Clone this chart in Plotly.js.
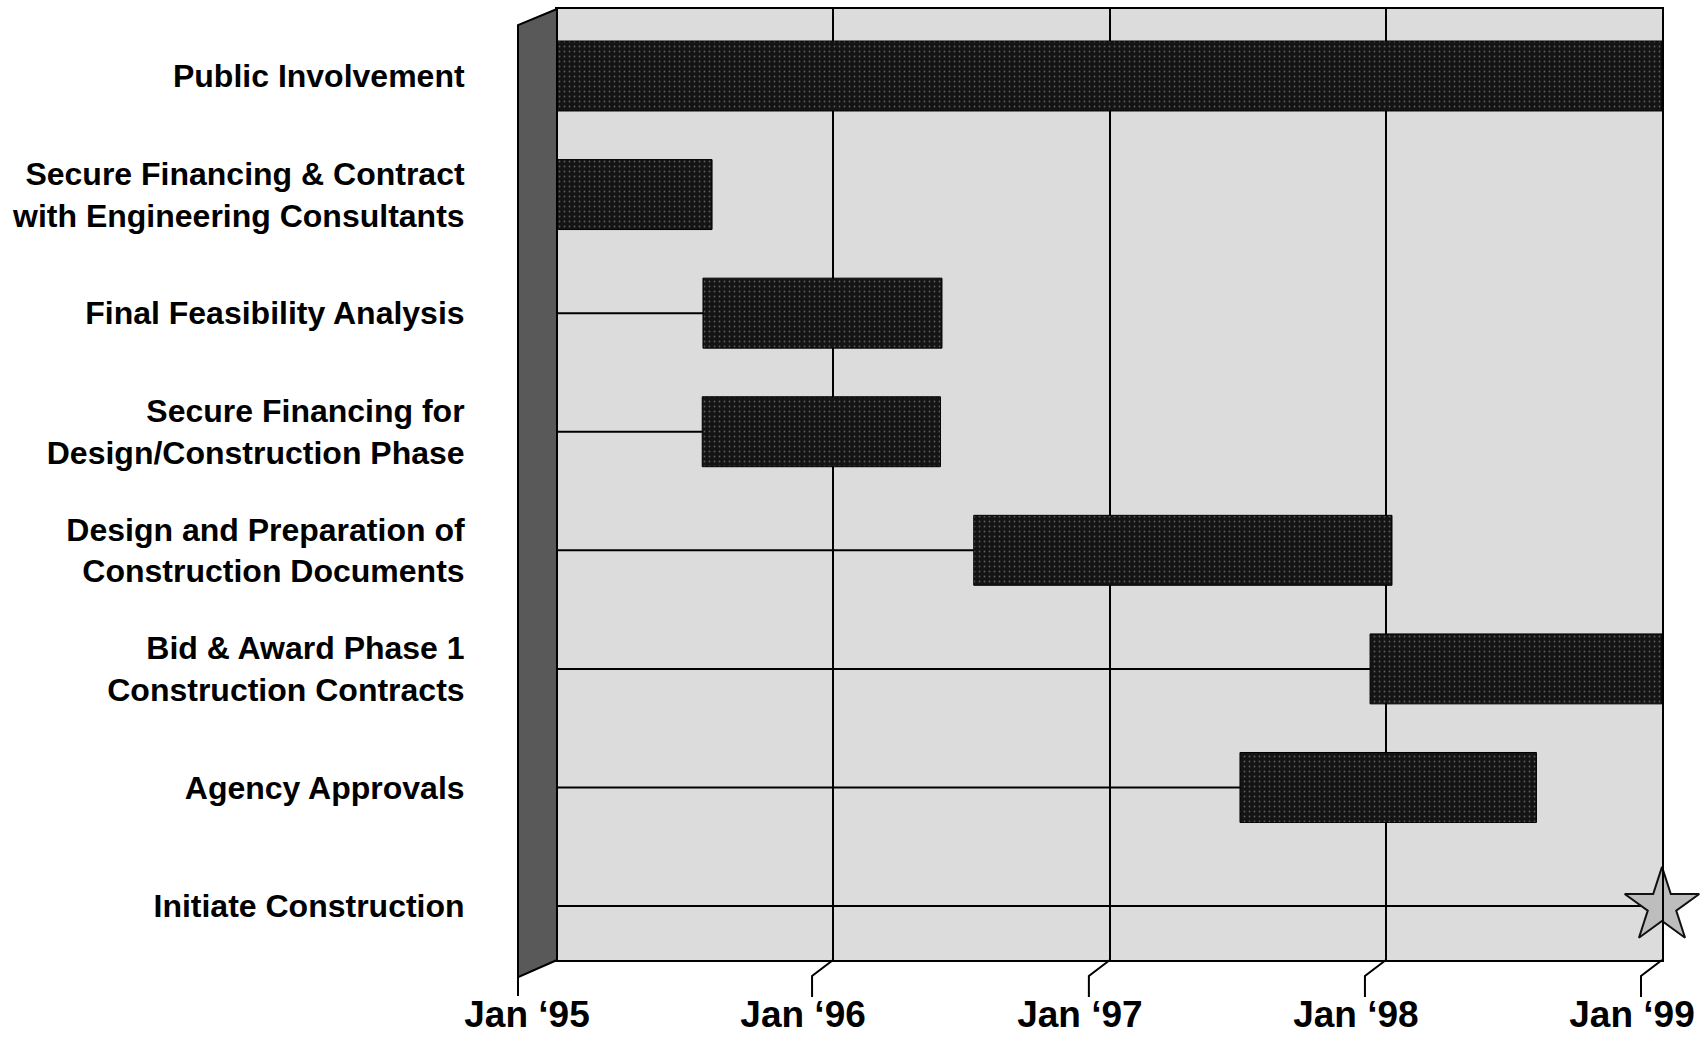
<!DOCTYPE html>
<html><head><meta charset="utf-8">
<script src="https://cdn.plot.ly/plotly-3.0.1.min.js"></script>
<style>html,body{margin:0;padding:0;background:#fff}#chart{width:1705px;height:1039px}</style>
</head><body><div id="chart"></div>
<script>
// ---- data ----
const tasks = [
  "Public Involvement",
  "Secure Financing & Contract<br>with Engineering Consultants",
  "Final Feasibility Analysis",
  "Secure Financing for<br>Design/Construction Phase",
  "Design and Preparation of<br>Construction Documents",
  "Bid & Award Phase 1<br>Construction Contracts",
  "Agency Approvals",
  "Initiate Construction"
];
const startDates = ["1995-01-01","1995-01-01","1995-07-13","1995-07-12","1996-07-05","1997-12-11","1997-06-22", null];
const endDates   = ["1999-01-01","1995-07-25","1996-05-24","1996-05-22","1998-01-09","1999-01-01","1998-07-19", null];
const milestoneTasks = ["Initiate Construction"];
const milestoneDates = ["1999-01-01"];
const tickDates  = ["1995-01-01","1996-01-01","1997-01-01","1998-01-01","1999-01-01"];
const tickLabels = ["Jan \u201895","Jan \u201896","Jan \u201897","Jan \u201898","Jan \u201899"];

// ---- build traces ----
const axisStart = tickDates[0], axisEnd = tickDates[tickDates.length-1];
const barY = [], barBase = [], barLen = [];
tasks.forEach((t,i)=>{
  if(startDates[i] && endDates[i]){
    barY.push(t); barBase.push(startDates[i]);
    barLen.push(new Date(endDates[i]) - new Date(startDates[i]));
  }
});
// leader lines from the axis start to each task start (or milestone)
const leadX = [], leadY = [];
tasks.forEach((t,i)=>{
  let s = startDates[i];
  const mi = milestoneTasks.indexOf(t);
  if(mi >= 0) s = milestoneDates[mi];
  if(s && new Date(s) > new Date(axisStart)){
    leadX.push(axisStart, s, null); leadY.push(t, t, null);
  }
});

const traces = [
  {type:'scatter', mode:'lines', x:leadX, y:leadY, line:{color:'#000', width:2}, hoverinfo:'skip', showlegend:false},
  {type:'bar', orientation:'h', y:barY, base:barBase, x:barLen, width:0.59,
   marker:{color:'#141414', line:{color:'#000', width:1},
           pattern:{shape:'.', fgcolor:'#5c5c5c', bgcolor:'#141414', size:5, solidity:0.1, fillmode:'replace'}},
   hoverinfo:'skip', showlegend:false},
  {type:'scatter', mode:'markers', x:milestoneDates, y:milestoneTasks, cliponaxis:false,
   marker:{symbol:'star', size:56, color:'#bdbdbd', line:{color:'#111', width:2}},
   hoverinfo:'skip', showlegend:false}
];

// ---- 3D-ish decoration: side wall & bent ticks ----
const t0 = new Date(axisStart).getTime(), t1 = new Date(axisEnd).getTime();
const frac = d => (new Date(d).getTime() - t0) / (t1 - t0);
const shapes = [
  {type:'path', xref:'paper', yref:'paper', xsizemode:'pixel', xanchor:0,
   path:'M0,1 L-39,0.983 L-39,-0.018 L0,0 Z', fillcolor:'#595959', line:{color:'#000', width:2}, layer:'above'}
];
tickDates.forEach((d,i)=>{
  shapes.push({type:'path', xref:'paper', yref:'paper', xsizemode:'pixel', ysizemode:'pixel',
    xanchor:frac(d), yanchor:0,
    path: i===0 ? 'M-39,-17 L-39,-36' : 'M0,0 L-21,-16 L-21,-37',
    line:{color:'#000', width:2}, layer:'above'});
});

const layout = {
  width:1705, height:1039,
  margin:{l:557, r:43, t:9, b:79},
  paper_bgcolor:'#ffffff', plot_bgcolor:'#dcdcdc',
  showlegend:false, hovermode:false,
  xaxis:{type:'date', range:[axisStart, axisEnd], tickvals:tickDates, ticktext:tickLabels,
    showgrid:true, gridcolor:'#000', gridwidth:2, ticks:'', zeroline:false,
    showline:true, linecolor:'#000', linewidth:2, mirror:true,
    ticklabelshift:-30, ticklabelstandoff:21,
    tickfont:{family:'Liberation Sans, Arial, sans-serif', size:37, color:'#000', weight:'bold'}},
  yaxis:{type:'category', categoryorder:'array', categoryarray:tasks, range:[7.455,-0.565],
    showgrid:false, ticks:'', zeroline:false,
    showline:true, linecolor:'#000', linewidth:2, mirror:true,
    ticklabelstandoff:84,
    tickfont:{family:'Liberation Sans, Arial, sans-serif', size:32, color:'#000', weight:'bold'}},
  shapes:shapes
};
Plotly.newPlot('chart', traces, layout, {displayModeBar:false, staticPlot:true});
</script>
</body></html>
